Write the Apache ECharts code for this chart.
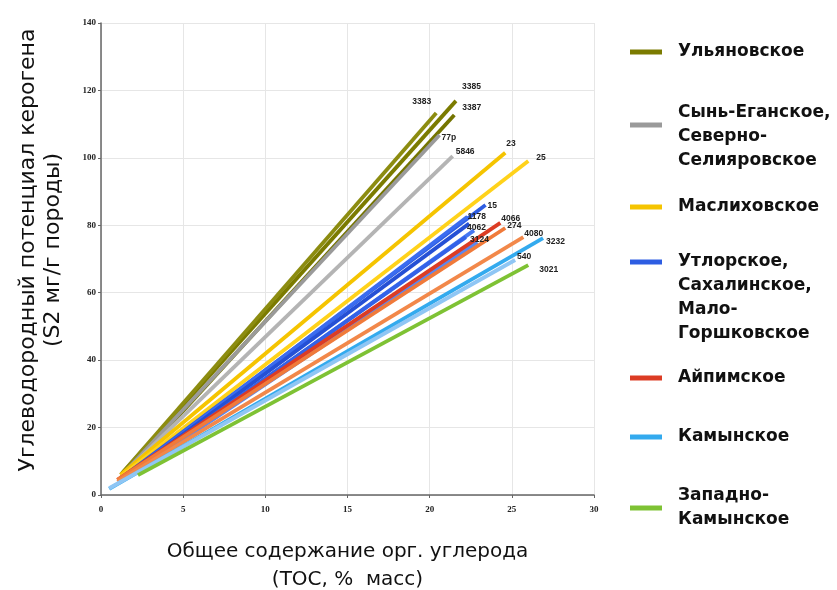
<!DOCTYPE html>
<html><head><meta charset="utf-8">
<script src="https://cdn.jsdelivr.net/npm/echarts@6/dist/echarts.min.js"></script>
<style>html,body{margin:0;padding:0;background:#fff}#c{width:837px;height:590px}</style>
</head><body><div id="c"></div>
<script>
// ---- data ----
const fieldNames = ['Ульяновское','Сынь-Еганское, Северно-Селияровское','Маслиховское','Утлорское, Сахалинское, Мало-Горшковское','Айпимское','Камынское','Западно-Камынское'];
const fieldLegendText = ['Ульяновское','\nСынь-Еганское,\nСеверно-\nСелияровское','Маслиховское','\n\n\nУтлорское,\nСахалинское,\nМало-\nГоршковское','Айпимское','Камынское','Западно-\nКамынское'];
const xTicks = [0,5,10,15,20,25,30];
const yTicks = [0,20,40,60,80,100,120,140];
// one entry per line
const lineField  = [0,0,0, 1,1, 2,2, 3,3,3,3,3,3, 4,4,4, 5,5, 6];
const startTOC   = [1.3,1.2,1.4, 1.3,1.3, 1.2,1.2, 1.5,1.5,1.5,1.5,1.4,1.5, 1.0,1.0,1.0, 0.5,0.5, 2.25];
const startS2    = [6.5,6.0,5.8, 6.0,6.0, 6.0,5.5, 6.0,5.5,5.5,5.0,5.0,5.0, 4.5,4.5,4.0, 1.8,2.0, 5.9];
const endTOC     = [21.6,20.4,21.5, 20.6,21.4, 24.6,26.0, 23.4,22.3,22.4,22.7,22.2,22.9, 24.3,24.6,25.7, 26.9,25.2, 26.0];
const endS2      = [116.9,113.3,112.7, 106.8,100.5, 101.5,99.1, 86.0,82.5,80.5,78.5,76.5,75.0, 80.7,79.2,76.5, 76.2,69.7, 68.2];
const sampleLabel= ['3385','3383','3387','77р','5846','23','25','15','1178','4062','3124','','','4066','274','4080','3232','540','3021'];

// ---- styling (not data) ----
const lineColors = ['#7b7b00','#8c8c10','#747400', '#9a9a9a','#b4b4b4', '#f5c400','#ffd21a',
  '#2d5de2','#3a6cf0','#2550d5','#4678f2','#3362e8','#5a88f0', '#dc3c24','#f07a3a','#f2884a', '#33aaee','#8fc6f4', '#7ec234'];
const labelOffsets = [[4,-14],[-26,-11],[6,-7],[0,3],[1,-5],[-1,-9],[6,-3],[0,1],[-2,0],[-4,4],[-6,9],[0,0],[0,0],[-1,-4],[0,-2],[-1,-3],[1,4],[0,-3],[9,5]];
const legendTops = [40,77,195,178,366,425,484];

const series = lineField.map((f,i)=>({
  type:'line', name: fieldNames[f], color: lineColors[i],
  symbol:'circle', symbolSize:0, showSymbol:true, silent:true,
  lineStyle:{width:3.8, color: lineColors[i]},
  data:[[startTOC[i],startS2[i]], {value:[endTOC[i],endS2[i]],
    label:{show: sampleLabel[i]!=='', formatter: sampleLabel[i], position:'right', distance:2,
      offset: labelOffsets[i], fontSize:8.5, fontFamily:'Liberation Sans', fontWeight:'bold', color:'#222'}}]
}));

const legends = fieldNames.map((n,i)=>({
  data:[n], left:630, top: legendTops[i], padding:0, orient:'vertical',
  icon:'rect', itemWidth:32, itemHeight:5,
  formatter: ()=>fieldLegendText[i],
  textStyle:{fontFamily:'DejaVu Sans', fontWeight:'bold', fontSize:17, color:'#111', lineHeight:24, padding:[0,0,0,11]}
}));

const chart = echarts.init(document.getElementById('c'), null, {renderer:'canvas'});
chart.setOption({
  animation:false,
  backgroundColor:'#fff',
  grid:{left:101, right:243, top:23, bottom:95, containLabel:false, outerBoundsMode:'none'},
  legend: legends,
  xAxis:{type:'value', min:xTicks[0], max:xTicks[xTicks.length-1], interval:xTicks[1]-xTicks[0],
    name:'Общее содержание орг. углерода\n(ТОС, %  масс)', nameLocation:'middle', nameGap:43,
    nameTextStyle:{fontFamily:'DejaVu Sans', fontSize:20, color:'#111', lineHeight:28},
    axisLine:{lineStyle:{color:'#666', width:1.5}}, axisTick:{show:true, length:3, lineStyle:{color:'#666'}},
    axisLabel:{fontFamily:'Liberation Serif', fontWeight:'bold', fontSize:9, color:'#222', margin:10},
    splitLine:{show:true, lineStyle:{color:'#e6e6e6', width:1}}},
  yAxis:{type:'value', min:yTicks[0], max:yTicks[yTicks.length-1], interval:yTicks[1]-yTicks[0],
    name:'Углеводородный потенциал керогена\n(S2 мг/г породы)', nameLocation:'middle', nameGap:35,
    nameTextStyle:{fontFamily:'DejaVu Sans', fontSize:22, color:'#111', lineHeight:25, padding:[0,0,0,18]},
    axisLine:{show:true, lineStyle:{color:'#666', width:1.5}}, axisTick:{show:true, length:3, lineStyle:{color:'#666'}},
    axisLabel:{fontFamily:'Liberation Serif', fontWeight:'bold', fontSize:9, color:'#222', margin:5},
    splitLine:{show:true, lineStyle:{color:'#e6e6e6', width:1}}},
  series: series
});
</script></body></html>
